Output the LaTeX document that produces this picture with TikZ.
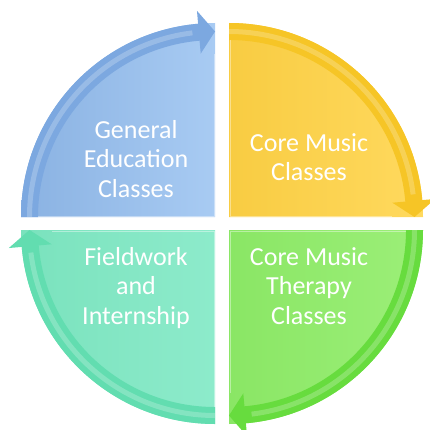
\documentclass[tikz,border=0pt]{standalone}
\usepackage{fontspec}
\setmainfont{Carlito}

\definecolor{genL}{HTML}{8AB2E2}
\definecolor{genR}{HTML}{A8CBF3}
\definecolor{genB}{HTML}{7CA8E0}
\definecolor{coreL}{HTML}{F8CC42}
\definecolor{coreR}{HTML}{FFD95E}
\definecolor{coreB}{HTML}{F6C526}
\definecolor{therL}{HTML}{8AE665}
\definecolor{therR}{HTML}{9CEF78}
\definecolor{therB}{HTML}{67DC3E}
\definecolor{fieldL}{HTML}{7AE2BD}
\definecolor{fieldR}{HTML}{8DEBCB}
\definecolor{fieldB}{HTML}{62DDB0}

\begin{document}
\begin{tikzpicture}[x=1pt, y=1pt,
  quadtext/.style={text=white, align=center, font=\fontsize{26}{29.5}\selectfont},
  rim/.style={white, opacity=.22, line width=5pt},
  edge/.style={white, opacity=.4, line width=1pt}
]
\useasboundingbox (0,0) rectangle (430,429);

% one quarter per entry: corner, turn, body colours, arrow colour
\foreach \cx/\cy/\rot/\lc/\rc/\bc in {215/212/0/genL/genR/genB, 229/212/-90/coreL/coreR/coreB, 229/199/-180/therL/therR/therB, 215/199/-270/fieldL/fieldR/fieldB}{
  \begin{scope}[shift={(\cx,\cy)}, rotate=\rot]
    \path[left color=\lc, right color=\rc] (0,0) -- (180:194) arc[start angle=180, end angle=90, radius=194] -- cycle;
    \path[fill=\bc] (180:194) arc[start angle=180, end angle=95, radius=194] -- (95:207) -- (90:185.5) -- (95:164) -- (95:177) arc[start angle=95, end angle=180, radius=177] -- cycle;
    \draw[rim] (180:185.5) arc[start angle=180, end angle=97, radius=185.5];
    \draw[edge] (-177,1) -- (-1,1) -- (-1,163);
  \end{scope}
}

\node[quadtext] (gen) at (136,270) {General\\Education\\Classes};
\node[quadtext] (core) at (309,272) {Core Music\\Classes};
\node[quadtext] (therapy) at (309,143) {Core Music\\Therapy\\Classes};
\node[quadtext] (field) at (136,141) {Fieldwork\\and\\Internship};
\end{tikzpicture}
\end{document}
